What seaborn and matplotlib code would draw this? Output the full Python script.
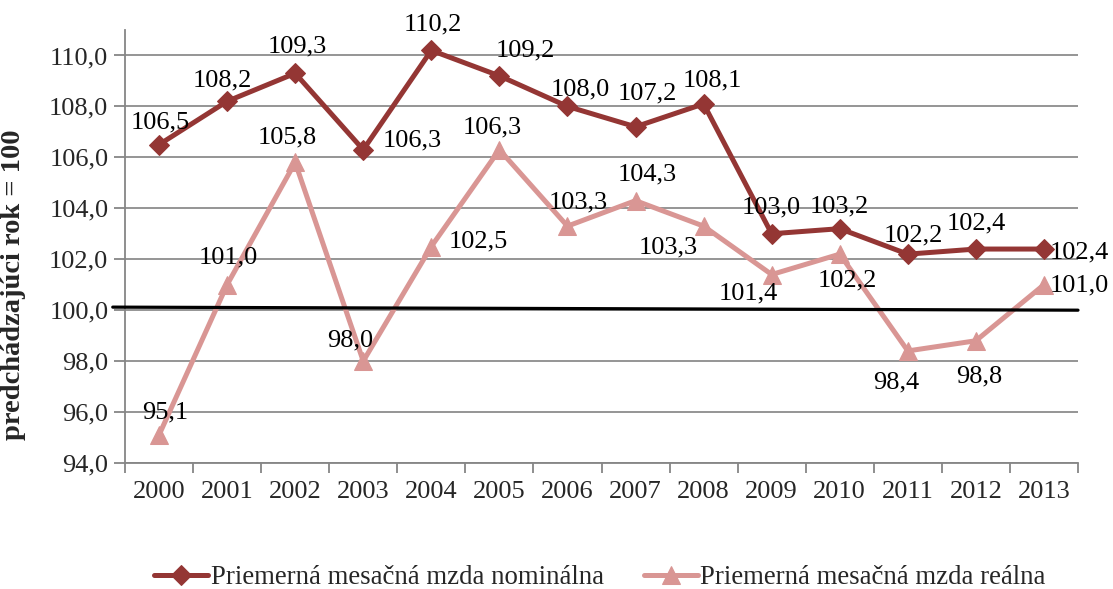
import matplotlib
matplotlib.use("Agg")
import matplotlib.pyplot as plt
import seaborn as sns
import numpy as np
import pandas as pd
from matplotlib.ticker import FixedLocator, FuncFormatter

years = ["2000", "2001", "2002", "2003", "2004", "2005", "2006",
         "2007", "2008", "2009", "2010", "2011", "2012", "2013"]
nominal = [106.5, 108.2, 109.3, 106.3, 110.2, 109.2, 108.0,
           107.2, 108.1, 103.0, 103.2, 102.2, 102.4, 102.4]
real = [95.1, 101.0, 105.8, 98.0, 102.5, 106.3, 103.3,
        104.3, 103.3, 101.4, 102.2, 98.4, 98.8, 101.0]
series_names = ["Priemerná mesačná mzda nominálna", "Priemerná mesačná mzda reálna"]
ref_line_y = [100.12, 100.0]
y_ticks = [94, 96, 98, 100, 102, 104, 106, 108, 110]

# label offsets in pixels (dx, dy up)
nom_off = [(1, 22), (-5, 21), (2, 27), (49, 9), (2, 26), (26, 25), (13, 17),
           (12, 33), (9, 23), (0, 26), (0, 22), (6, 19), (0, 26), (35, -3)]
real_off = [(6, 23), (1, 27), (-8, 25), (-13, 21), (47, 5), (-7, 22), (11, 24),
            (12, 26), (-35, -21), (-23, -19), (8, -26), (-12, -32), (3, -36), (35, -1)]

sns.set_theme(style="white")
plt.rcParams['font.family'] = ['Liberation Serif', 'DejaVu Serif']

c_nom = "#943634"
c_real = "#D99694"

fig = plt.figure(figsize=(11.13, 5.89), dpi=100)
ax = fig.add_axes([125 / 1113, 1 - 463 / 589, (1078 - 125) / 1113, (463 - 30) / 589])

df = pd.DataFrame({"x": np.arange(len(years)), "nom": nominal, "real": real})

sns.lineplot(data=df, x="x", y="nom", ax=ax, color=c_nom, lw=3.6, marker="D",
             markersize=10, markeredgecolor=c_nom, label=series_names[0], zorder=4)
sns.lineplot(data=df, x="x", y="real", ax=ax, color=c_real, lw=3.6, marker="^",
             markersize=13, markeredgecolor=c_real, label=series_names[1], zorder=3)

ax.plot([-0.68, len(years) - 0.5], ref_line_y, color="black", lw=2.3, zorder=5, clip_on=False)

fs = 19
for i, (v, o) in enumerate(zip(nominal, nom_off)):
    ax.annotate(f"{v:.1f}".replace(".", ","), (i, v), xytext=o, textcoords="offset pixels",
                ha="center", va="center", fontsize=fs, color="black", zorder=6)
for i, (v, o) in enumerate(zip(real, real_off)):
    ax.annotate(f"{v:.1f}".replace(".", ","), (i, v), xytext=o, textcoords="offset pixels",
                ha="center", va="center", fontsize=fs, color="black", zorder=6)

ax.set_xlim(-0.5, len(years) - 0.5)
ax.set_ylim(94, 111)
ax.set_yticks(y_ticks)
ax.yaxis.set_major_formatter(FuncFormatter(lambda v, p: f"{v:.1f}".replace(".", ",")))
ax.xaxis.set_major_locator(FixedLocator(np.arange(-0.5, len(years), 1.0)))
ax.xaxis.set_minor_locator(FixedLocator(np.arange(len(years))))
ax.set_xticklabels([])
ax.set_xticklabels(years, minor=True)
ax.tick_params(axis="x", which="major", length=7, width=1.3, color="#868686", direction="out", bottom=True)
ax.tick_params(axis="x", which="minor", length=0, labelsize=fs, pad=13, bottom=True)
ax.tick_params(axis="y", which="major", length=8, width=1.3, color="#868686", labelsize=fs, pad=4, left=True)
ax.grid(axis="y", color="#8c8c8c", lw=1.3)
ax.grid(axis="x", visible=False)
for s in ["top", "right"]:
    ax.spines[s].set_visible(False)
for s in ["left", "bottom"]:
    ax.spines[s].set_color("#868686")
    ax.spines[s].set_linewidth(1.3)

ax.set_xlabel("")
ax.set_ylabel("predchádzajúci rok = 100", fontsize=20.5, fontweight="bold")
ax.yaxis.set_label_coords(-0.104, (463 - 285) / 433)

ax.get_legend().remove()
h, l = ax.get_legend_handles_labels()
fig.legend(h, l, loc="center", bbox_to_anchor=(600 / 1113, 1 - 578 / 589), ncol=2,
           frameon=False, fontsize=19.3, handlelength=2.0, columnspacing=1.5, handletextpad=0.1,
           borderaxespad=0)

fig.savefig("out.png", dpi=100)
